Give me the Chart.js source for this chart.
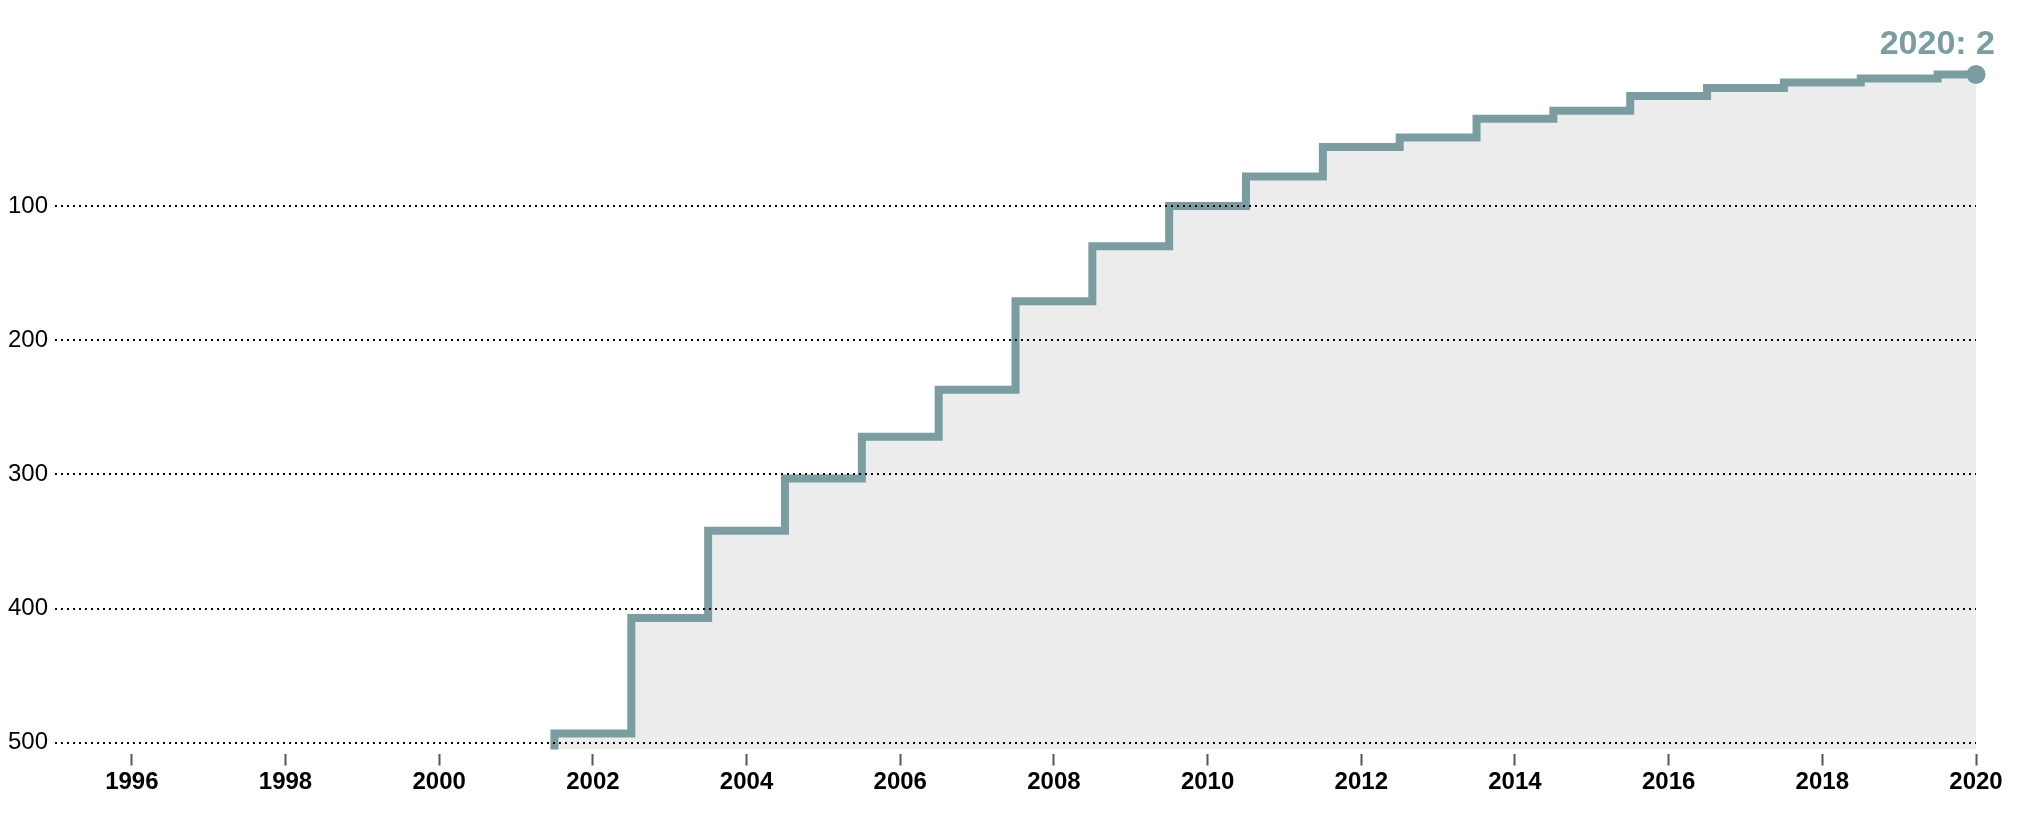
<!DOCTYPE html>
<html lang="en">
<head>
    <meta charset="UTF-8">
    <title>Rank by year</title>
    <script src="https://cdn.jsdelivr.net/npm/chart.js"></script>
    <style>
        html, body { margin: 0; padding: 0; background: #ffffff; }
        .wrap { width: 2040px; height: 828px; position: relative; }
    </style>
</head>
<body>
    <div class="wrap">
        <canvas id="rankChart"></canvas>
    </div>

    <script>
        // data (rank, lower is better)
        const years = [2001, 2002, 2003, 2004, 2005, 2006, 2007, 2008, 2009, 2010,
                       2011, 2012, 2013, 2014, 2015, 2016, 2017, 2018, 2019, 2020];
        const ranks = [520, 493, 407, 342, 303, 272, 237, 171, 130, 100,
                       78, 56, 49, 35, 29, 18, 12, 8, 5, 2];
        const xTicks = [1996, 1998, 2000, 2002, 2004, 2006, 2008, 2010, 2012, 2014, 2016, 2018, 2020];
        const yTicks = [100, 200, 300, 400, 500];

        const lineColor = '#799da1';
        const lastIndex = years.length - 1;

        // label over the last point
        const lastLabel = {
            id: 'lastLabel',
            afterDraw(chart) {
                const pt = chart.getDatasetMeta(0).data[lastIndex];
                const ctx = chart.ctx;
                ctx.save();
                ctx.font = 'bold 34px "Liberation Sans", Arial, sans-serif';
                ctx.fillStyle = lineColor;
                ctx.textAlign = 'right';
                ctx.textBaseline = 'alphabetic';
                ctx.fillText(years[lastIndex] + ': ' + ranks[lastIndex], pt.x + 19, pt.y - 21);
                ctx.restore();
            }
        };

        const ctx = document.getElementById('rankChart').getContext('2d');
        new Chart(ctx, {
            type: 'line',
            data: {
                datasets: [{
                    data: years.map((y, i) => ({ x: y, y: ranks[i] })),
                    borderColor: lineColor,
                    borderWidth: 8,
                    stepped: 'middle',
                    fill: { value: 505 },
                    backgroundColor: '#ececec',
                    clip: { left: 0, top: 20, right: 20, bottom: 0 },
                    pointRadius: c => c.dataIndex === lastIndex ? 9.5 : 0,
                    pointHoverRadius: 0,
                    pointBackgroundColor: lineColor,
                    pointBorderWidth: 0
                }]
            },
            options: {
                responsive: true,
                maintainAspectRatio: false,
                animation: false,
                layout: { padding: { top: 45, right: 64, bottom: 0, left: 0 } },
                plugins: {
                    legend: { display: false },
                    tooltip: { enabled: false }
                },
                scales: {
                    x: {
                        type: 'linear',
                        min: 1995,
                        max: 2020,
                        afterBuildTicks: s => { s.ticks = xTicks.map(v => ({ value: v })); },
                        afterFit: s => { s.height = 78.5; },
                        border: { display: false },
                        grid: {
                            drawOnChartArea: false,
                            drawTicks: true,
                            tickLength: 16,
                            tickWidth: 2,
                            tickColor: '#555555',
                            tickBorderDash: [0, 4, 12, 40]
                        },
                        ticks: {
                            padding: 2,
                            color: '#000000',
                            maxRotation: 0,
                            autoSkip: false,
                            font: { family: '"Liberation Sans", Arial, sans-serif', size: 24, weight: 'bold' },
                            callback: v => String(v)
                        }
                    },
                    y: {
                        reverse: true,
                        min: -20,
                        max: 505,
                        afterBuildTicks: s => { s.ticks = yTicks.map(v => ({ value: v })); },
                        afterFit: s => { s.width = 55; },
                        border: { display: false, dash: [2, 4] },
                        grid: {
                            z: 1,
                            color: '#000000',
                            lineWidth: 2,
                            drawTicks: false
                        },
                        ticks: {
                            padding: 7,
                            color: '#000000',
                            font: { family: '"Liberation Sans", Arial, sans-serif', size: 24 },
                            callback: v => String(v)
                        }
                    }
                }
            },
            plugins: [lastLabel]
        });
    </script>
</body>
</html>
